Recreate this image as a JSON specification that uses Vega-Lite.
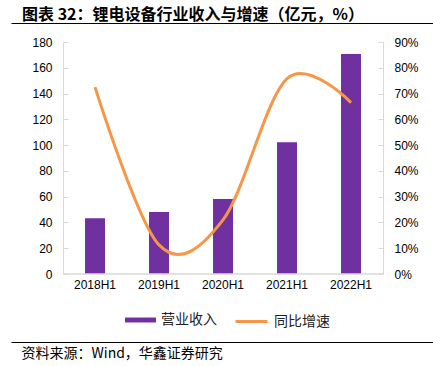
{
  "$schema": "https://vega.github.io/schema/vega-lite/v6.json",
  "autosize": {"type": "none"},
  "padding": {"left": 11, "top": 42, "right": 0, "bottom": 92},
  "width": 422,
  "height": 232,
  "background": "#ffffff",
  "title": {
    "text": "图表 32：锂电设备行业收入与增速（亿元，%）",
    "anchor": "start",
    "frame": "group",
    "dx": 11,
    "dy": 18,
    "offset": 2,
    "font": "Noto Sans CJK SC",
    "fontSize": 16,
    "fontWeight": "bold",
    "color": "#000000",
    "baseline": "bottom"
  },
  "config": {
    "view": {"stroke": null},
    "axis": {"grid": false}
  },
  "data": {
    "values": [
      {"period": "2018H1", "revenue": 43.2, "growth": 72.5},
      {"period": "2019H1", "revenue": 48.1, "growth": 11.3},
      {"period": "2020H1", "revenue": 58.2, "growth": 21.0},
      {"period": "2021H1", "revenue": 102.2, "growth": 75.8},
      {"period": "2022H1", "revenue": 170.7, "growth": 66.5}
    ]
  },
  "layer": [
    {
      "layer": [
        {
          "mark": {"type": "bar", "size": 20},
          "encoding": {
            "x": {"field": "period", "type": "nominal",
                  "scale": {"type": "band", "paddingInner": 0, "paddingOuter": 0.797, "align": 0.51},
                  "axis": {
                    "orient": "bottom", "offset": 68, "labelAngle": 0,
                    "ticks": false, "domainColor": "#000000", "domainWidth": 1,
                    "labelFont": "Liberation Sans", "labelFontSize": 12, "labelColor": "#000000",
                    "labelPadding": -63,
                    "title": "资料来源：Wind，华鑫证券研究",
                    "titleFont": "Noto Sans CJK SC", "titleFontSize": 14, "titleFontWeight": "normal",
                    "titleColor": "#000000", "titleAnchor": "start", "titleAlign": "left",
                    "titleBaseline": "middle", "titleX": 10, "titleY": 11
                  }},
            "y": {"field": "revenue", "type": "quantitative",
                  "scale": {"domain": [0, 180], "nice": false},
                  "axis": {
                    "orient": "left", "offset": -52, "values": [0, 20, 40, 60, 80, 100, 120, 140, 160, 180],
                    "labelOverlap": false,
                    "domainColor": "#d9d9d9", "tickColor": "#d9d9d9", "tickSize": -5,
                    "labelFont": "Liberation Sans", "labelFontSize": 12, "labelColor": "#000000",
                    "labelPadding": 16, "title": null
                  }},
            "fill": {"datum": "营业收入", "type": "nominal",
                     "scale": {"range": ["#7030A0"]},
                     "legend": {
                       "orient": "none", "legendX": 114, "legendY": 262.5, "title": null, "padding": 0,
                       "symbolType": "M-1,-0.16H1V0.16H-1Z", "symbolSize": 961, "symbolStrokeWidth": 0,
                       "labelOffset": 5, "labelFont": "Noto Sans CJK SC", "labelFontSize": 14, "labelColor": "#222222"
                     }}
          }
        },
        {
          "mark": {"type": "bar", "fillOpacity": 0, "stroke": "#d9d9d9", "strokeWidth": 1},
          "encoding": {
            "x": {"field": "period", "type": "nominal",
                  "axis": {
                    "orient": "bottom", "offset": 68, "labelAngle": 0,
                    "ticks": false, "domainColor": "#000000", "domainWidth": 1,
                    "labelFont": "Liberation Sans", "labelFontSize": 12, "labelColor": "#000000",
                    "labelPadding": -63,
                    "title": "资料来源：Wind，华鑫证券研究",
                    "titleFont": "Noto Sans CJK SC", "titleFontSize": 14, "titleFontWeight": "normal",
                    "titleColor": "#000000", "titleAnchor": "start", "titleAlign": "left",
                    "titleBaseline": "middle", "titleX": 10, "titleY": 11
                  }},
            "y": {"datum": 0, "type": "quantitative",
                  "axis": {
                    "orient": "left", "offset": -52, "values": [0, 20, 40, 60, 80, 100, 120, 140, 160, 180],
                    "labelOverlap": false,
                    "domainColor": "#d9d9d9", "tickColor": "#d9d9d9", "tickSize": -5,
                    "labelFont": "Liberation Sans", "labelFontSize": 12, "labelColor": "#000000",
                    "labelPadding": 16, "title": null
                  }},
            "y2": {"datum": 0}
          }
        }
      ]
    },
    {
      "mark": {"type": "line", "interpolate": "cardinal", "strokeWidth": 3},
      "encoding": {
        "x": {"field": "period", "type": "nominal",
              "axis": {"orient": "top", "offset": 19, "labels": false, "ticks": false,
                       "domainColor": "#000000", "domainWidth": 1, "title": null}},
        "y": {"field": "growth", "type": "quantitative",
              "scale": {"domain": [0, 90], "nice": false},
              "axis": {
                "orient": "right", "offset": -50, "values": [0, 10, 20, 30, 40, 50, 60, 70, 80, 90],
                "labelExpr": "datum.value + '%'",
                "domainColor": "#d9d9d9", "tickColor": "#d9d9d9", "tickSize": -5,
                "labelFont": "Liberation Sans", "labelFontSize": 12, "labelColor": "#000000",
                "labelPadding": 16, "title": null
              }},
        "stroke": {"datum": "同比增速", "type": "nominal",
                   "scale": {"range": ["#F79646"]},
                   "legend": {
                     "orient": "none", "legendX": 223, "legendY": 262, "title": null, "padding": 0,
                     "symbolType": "stroke", "symbolSize": 1024, "symbolStrokeWidth": 3,
                     "labelOffset": 5, "labelFont": "Noto Sans CJK SC", "labelFontSize": 14, "labelColor": "#222222"
                   }}
      }
    }
  ],
  "resolve": {
    "scale": {"y": "independent"},
    "axis": {"x": "independent", "y": "independent"}
  }
}
